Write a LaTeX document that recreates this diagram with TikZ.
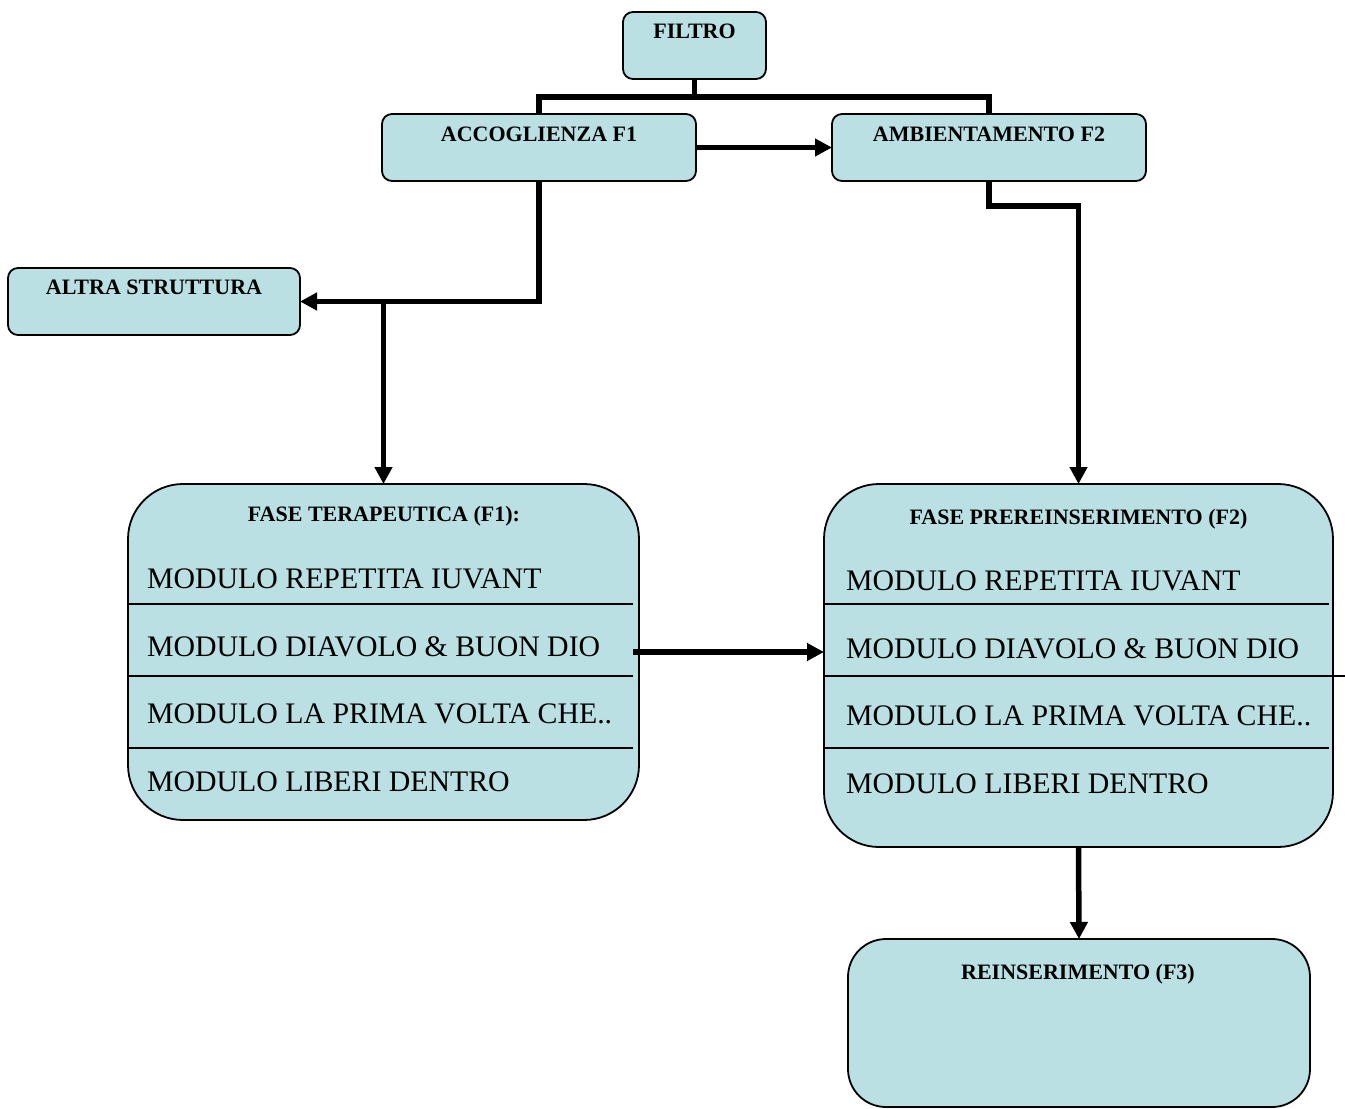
\documentclass[tikz,border=0pt]{standalone}
\usepackage{fontspec}
\setmainfont{Liberation Serif}
\usetikzlibrary{arrows.meta}
\definecolor{boxfill}{RGB}{186,224,227}
\tikzset{
  smallbox/.style={draw=black, line width=1.8pt, fill=boxfill, rounded corners=10pt, inner sep=0pt, outer sep=0pt},
  bigbox/.style={draw=black, line width=1.8pt, fill=boxfill, rounded corners=55pt, inner sep=0pt, outer sep=0pt},
  ttl/.style={font=\fontsize{22}{26}\selectfont\bfseries, anchor=base, inner sep=0pt},
  modtxt/.style={font=\fontsize{29.8}{34}\selectfont, anchor=base west, inner sep=0pt},
  conn/.style={line width=5.5pt, line join=miter},
  arr/.style={line width=5.5pt, line join=miter, -{Triangle[length=17pt,width=17pt]}},
  divline/.style={line width=2pt}
}
\begin{document}
\begin{tikzpicture}[x=1pt,y=-1pt]
\useasboundingbox (0,0) rectangle (1345,1109);
% boxes
\node[smallbox, minimum width=143pt, minimum height=67pt] (filtro) at (694.5,45.5) {};
\node[smallbox, minimum width=314pt, minimum height=67pt] (acc) at (539,147.5) {};
\node[smallbox, minimum width=314pt, minimum height=67pt] (amb) at (989,147.5) {};
\node[smallbox, minimum width=292pt, minimum height=67pt] (altra) at (154,301.5) {};
\node[bigbox, minimum width=511pt, minimum height=336pt] (terap) at (383.5,652) {};
\node[bigbox, minimum width=509pt, minimum height=363pt] (pre) at (1078.5,665.5) {};
\node[bigbox, rounded corners=38pt, minimum width=462pt, minimum height=168pt] (reins) at (1079,1023) {};
% dividers
\draw[divline] (128,603.5) -- (633,603.5);
\draw[divline] (128,676) -- (633,676);
\draw[divline] (128,748) -- (633,748);
\draw[divline] (824,603.5) -- (1329,603.5);
\draw[divline] (824,676) -- (1345,676);
\draw[divline] (824,748) -- (1329,748);
% titles
\node[ttl] (tfiltro) at (694.5,38) {FILTRO};
\node[ttl] (tacc) at (539,141) {ACCOGLIENZA F1};
\node[ttl] (tamb) at (989,141) {AMBIENTAMENTO F2};
\node[ttl] (taltra) at (154,294) {ALTRA STRUTTURA};
\node[ttl] (tterap) at (384,521) {FASE TERAPEUTICA (F1):};
\node[ttl] (tpre) at (1078.5,524) {FASE PREREINSERIMENTO (F2)};
\node[ttl] (treins) at (1078,979) {REINSERIMENTO (F3)};
% modules left
\node[modtxt] (l1) at (147,588) {MODULO REPETITA IUVANT};
\node[modtxt] (l2) at (147,656) {MODULO DIAVOLO \& BUON DIO};
\node[modtxt] (l3) at (147,723) {MODULO LA PRIMA VOLTA CHE..};
\node[modtxt] (l4) at (147,791) {MODULO LIBERI DENTRO};
% modules right
\node[modtxt] (r1) at (846,590) {MODULO REPETITA IUVANT};
\node[modtxt] (r2) at (846,658) {MODULO DIAVOLO \& BUON DIO};
\node[modtxt] (r3) at (846,725) {MODULO LA PRIMA VOLTA CHE..};
\node[modtxt] (r4) at (846,793) {MODULO LIBERI DENTRO};
% connectors
\coordinate (j) at (694.5,97);
\draw[conn] (filtro.south) -- (j);
\draw[conn] (acc.north) -- (acc.north |- j) -- (amb.north |- j) -- (amb.north);
\draw[arr] (acc.east) -- (amb.west);
\draw[arr] (acc.south) |- (altra.east);
\coordinate (k) at (terap.north |- altra.east);
\draw[arr] (k) -- (terap.north);
\draw[arr] (amb.south) -- ([yshift=-25pt]amb.south) -| (pre.north);
\draw[arr, shorten <=-6pt] (terap.east) -- (terap.east -| pre.west);
\draw[arr] (pre.south) -- (reins.north);
\end{tikzpicture}
\end{document}
